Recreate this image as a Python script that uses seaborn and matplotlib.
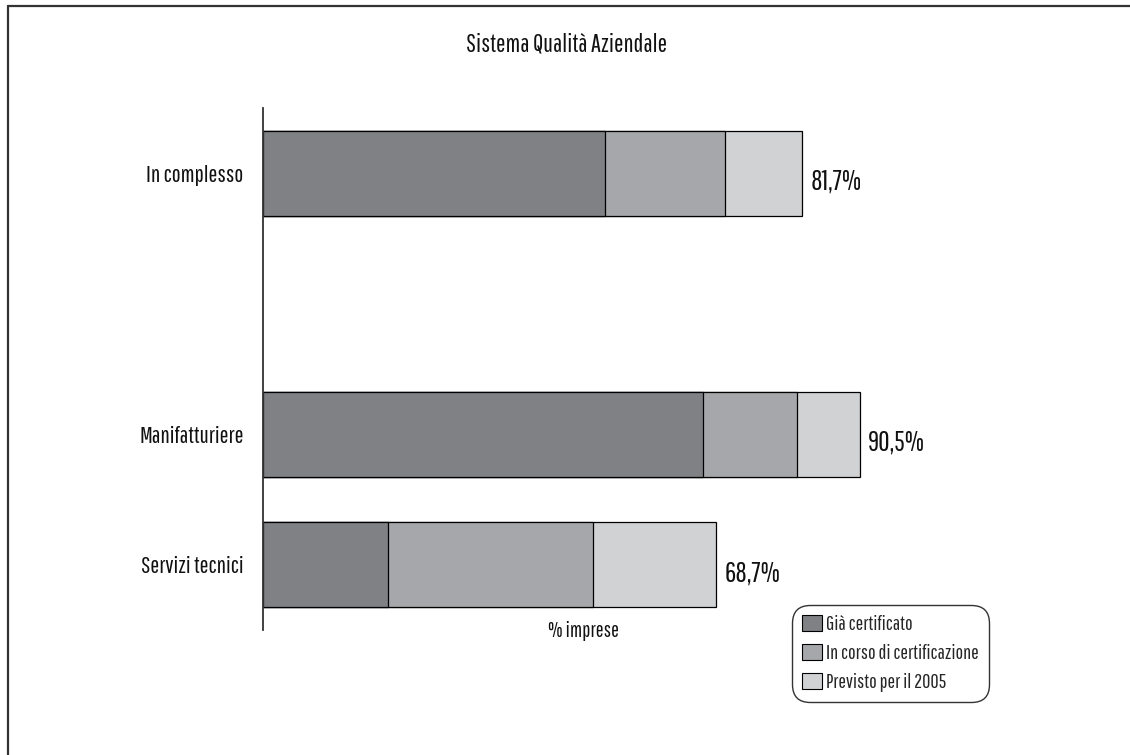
import matplotlib
matplotlib.use("Agg")
import matplotlib.pyplot as plt
from matplotlib.patches import Patch
from matplotlib.lines import Line2D
import seaborn as sns
import pandas as pd

# Data: share of firms (%) by quality-system status
categories = ["In complesso", "Manifatturiere", "Servizi tecnici"]
gia_certificato = [51.8, 66.7, 18.9]
in_corso = [18.2, 14.2, 31.1]
previsto_2005 = [11.7, 9.6, 18.7]
totals = [81.7, 90.5, 68.7]
series_names = ["Già certificato", "In corso di certificazione", "Previsto per il 2005"]
colors = ["#808185", "#a6a7aa", "#d1d2d4"]

# category order with an empty slot between the overall row and the sectors
order = ["In complesso", " ", "Manifatturiere", "Servizi tecnici"]

sns.set_theme(style="white")
plt.rcParams["font.family"] = ["Pathway Gothic One", "DejaVu Sans"]

df = pd.DataFrame({
    "categoria": categories,
    "s1": gia_certificato,
    "s2": in_corso,
    "s3": previsto_2005,
})
df["c1"] = df["s1"]
df["c2"] = df["s1"] + df["s2"]
df["c3"] = df["s1"] + df["s2"] + df["s3"]

fig = plt.figure(figsize=(11.3, 7.55), dpi=100)
ax = fig.add_axes([263 / 1130, 125 / 755, 660 / 1130, 522 / 755])

# stacked bars: draw cumulative totals from the outermost segment inwards
for col, color in zip(["c3", "c2", "c1"], colors[::-1]):
    sns.barplot(data=df, y="categoria", x=col, order=order, orient="h",
                color=color, saturation=1, width=0.65, edgecolor="black",
                linewidth=0.9, ax=ax)

ax.set_xlim(0, 100)
ax.set_ylim(3.5, -0.5)
ax.set_xlabel("")
ax.set_ylabel("")
ax.set_xticks([])
for side in ["top", "right", "bottom"]:
    ax.spines[side].set_visible(False)
ax.spines["left"].set_color("#333333")
ax.spines["left"].set_linewidth(1.3)
ax.tick_params(axis="y", length=0, pad=14, labelsize=17, labelcolor="#111111")

# total labels at the end of each bar
for cat, tot in zip(categories, totals):
    y = order.index(cat)
    ax.text(tot + 1.2, y + 0.125, f"{tot:.1f}%".replace(".", ","),
            va="baseline", ha="left", fontsize=20, color="#111111")

fig.text(567 / 1130, 1 - 44 / 755, "Sistema Qualità Aziendale", ha="center",
         va="center", fontsize=18, color="#111111")
fig.text(583 / 1130, 1 - 631 / 755, "% imprese", ha="center", va="center",
         fontsize=15, color="#111111")

handles = [Patch(facecolor=c, edgecolor="black", linewidth=0.8) for c in colors]
leg = fig.legend(handles, series_names, loc="upper left",
                 bbox_to_anchor=(794 / 1130, 1 - 607 / 755), fontsize=14.5,
                 frameon=True, fancybox=True, handlelength=1.0,
                 handleheight=0.8, handletextpad=0.2, borderpad=0.4,
                 labelspacing=0.5, borderaxespad=0)
leg.get_frame().set_edgecolor("black")
leg.get_frame().set_linewidth(1.0)
leg.get_frame().set_boxstyle("round,pad=0.1,rounding_size=0.9")

# page frame: top and left border lines
fig.add_artist(Line2D([8 / 1130, 1.0], [1 - 6 / 755, 1 - 6 / 755],
                      transform=fig.transFigure, color="#333333", lw=1.6))
fig.add_artist(Line2D([8 / 1130, 8 / 1130], [0.0, 1 - 6 / 755],
                      transform=fig.transFigure, color="#333333", lw=1.6))

fig.savefig("out.png", dpi=100, facecolor="white")
